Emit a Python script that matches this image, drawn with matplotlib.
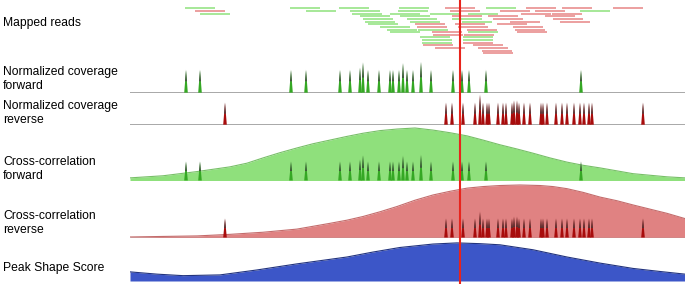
import matplotlib.pyplot as plt

# ---- data (positions are relative to window start) ----
summit = 330
read_len = 30

fwd_read_start = [55, 70, 160, 176, 209, 220, 222, 230, 233, 235, 238, 250, 257, 260,
                  269, 268, 270, 277, 280, 300, 338, 322, 332, 288, 260, 338, 290, 333,
                  292, 333, 292, 356, 450]
fwd_read_row = [0, 2, 0, 1, 0, 1, 2, 3, 4, 5, 6, 7, 8, 2,
                0, 1, 3, 4, 5, 2, 2, 4, 5, 8, 9, 9, 11, 11,
                12, 12, 13, 0, 1]
rev_read_start = [65, 315, 396, 432, 483, 320, 370, 405, 391, 422, 322, 358, 415, 363,
                  423, 380, 430, 285, 325, 367, 287, 328, 383, 337, 385, 302, 387, 303,
                  334, 333, 293, 343, 305, 348, 352, 353]
rev_read_row = [1, 0, 0, 0, 0, 1, 1, 1, 2, 2, 3, 3, 3, 4,
                4, 5, 5, 6, 6, 6, 7, 7, 7, 8, 8, 9, 9, 10,
                10, 13, 14, 14, 15, 15, 16, 17]

fwd_peak_pos = [56, 70, 161, 176, 210, 220, 230, 233, 238, 249, 260, 263, 269, 273,
                277, 283, 291, 301, 323, 332, 339, 356, 451]
fwd_peak_ht = [1.0, 1.0, 1.0, 1.0, 1.0, 1.0, 1.1, 1.33, 1.0, 1.0, 1.0, 1.0, 1.0, 1.3,
               1.0, 1.0, 1.35, 1.0, 1.0, 1.0, 1.0, 1.0, 1.0]
rev_peak_pos = [95, 316, 322, 333, 345, 350, 353, 357, 359, 368, 373, 376, 382, 384,
                387, 389, 394, 400, 411, 413, 417, 426, 432, 437, 444, 450, 454, 459,
                462, 513]
rev_peak_ht = [1.0, 1.0, 1.0, 1.0, 1.0, 1.36, 1.0, 1.0, 1.0, 1.0, 1.0, 1.0, 1.0, 1.1,
               1.1, 1.0, 1.0, 1.0, 1.0, 1.0, 1.0, 1.0, 1.0, 1.0, 1.0, 1.0, 1.0, 1.0,
               1.0, 1.0]

ccf_pos = [0, 33, 67, 100, 117, 133, 150, 167, 183, 200, 217, 233, 250, 267, 285, 303, 320,
           337, 353, 370, 387, 403, 420, 437, 453, 470, 503, 537, 555]
ccf_val = [0.05, 0.09, 0.17, 0.26, 0.33, 0.43, 0.53, 0.62, 0.70, 0.77, 0.84, 0.90, 0.95, 0.98,
           1.0, 0.96, 0.91, 0.85, 0.77, 0.68, 0.60, 0.52, 0.43, 0.35, 0.29, 0.24, 0.13, 0.07, 0.05]
ccr_pos = [0, 33, 67, 100, 133, 167, 200, 217, 233, 250, 267, 285, 303, 320, 337, 353, 370,
           390, 410, 423, 437, 453, 470, 487, 503, 520, 537, 555]
ccr_val = [0.01, 0.02, 0.03, 0.06, 0.10, 0.16, 0.27, 0.33, 0.40, 0.49, 0.59, 0.71, 0.81, 0.88,
           0.94, 0.97, 0.99, 1.0, 0.99, 0.97, 0.93, 0.86, 0.77, 0.70, 0.62, 0.54, 0.46, 0.36]
score_pos = [0, 27, 53, 90, 127, 167, 217, 243, 270, 303, 327, 350, 370, 403, 437, 470, 503,
             530, 555]
score_val = [0.24, 0.18, 0.14, 0.16, 0.29, 0.45, 0.63, 0.76, 0.88, 0.97, 1.0, 0.98, 0.95, 0.82,
             0.63, 0.47, 0.33, 0.25, 0.18]

labels = [("Mapped reads", 23), ("Normalized coverage", 72), ("forward", 86),
          ("Normalized coverage", 106), ("reverse", 120), ("Cross-correlation", 162),
          ("forward", 176), ("Cross-correlation", 216), ("reverse", 230),
          ("Peak Shape Score", 268)]

GREEN, GREEN_FILL, GREEN_EDGE = "#35a824", "#8fe07c", "#78c068"
RED, RED_FILL, RED_EDGE = "#a80c0c", "#e08282", "#c46c6c"
BLUE, BLUE_EDGE = "#3c56c8", "#22337e"
READ_G, READ_R = "#9fe690", "#eb9797"

plt.rcParams['font.family'] = ['Liberation Sans', 'DejaVu Sans']
W, H = 685, 284
fig = plt.figure(figsize=(W / 100, H / 100), dpi=100)


def track(top, bottom, ylim):
    ax = fig.add_axes([130 / W, 1 - bottom / H, 555 / W, (bottom - top) / H])
    ax.set_xlim(0, 555)
    ax.set_ylim(*ylim)
    ax.axis("off")
    return ax


def spikes(ax, pos, hts, scale, color):
    for p, h in zip(pos, hts):
        h = h * scale
        ax.fill([p - 1.8, p, p + 1.8], [0, h, 0], color=color, lw=0, zorder=3)
        ax.fill([p - 0.9, p, p + 0.9], [h * 0.5, h, h * 0.5], color="#3a3a3a", alpha=0.85, lw=0, zorder=4)


# mapped reads
ax = track(3, 58, (18.75, -2))
ax.hlines(fwd_read_row, fwd_read_start, [s + read_len for s in fwd_read_start], colors=READ_G, lw=1.3)
ax.hlines(rev_read_row, rev_read_start, [s + read_len for s in rev_read_start], colors=READ_R, lw=1.3)

# normalized coverage
ax = track(60, 92.7, (0, 1.44))
ax.axhline(0, color="#9a9a9a", lw=1.2)
spikes(ax, fwd_peak_pos, fwd_peak_ht, 1.0, GREEN)
ax = track(94, 124.7, (0, 1.395))
ax.axhline(0, color="#9a9a9a", lw=1.2)
spikes(ax, rev_peak_pos, rev_peak_ht, 1.0, RED)

# cross-correlation
ax = track(126, 180.5, (0, 1.038))
ax.fill_between(ccf_pos, 0, ccf_val, color=GREEN_FILL, lw=0)
ax.plot(ccf_pos, ccf_val, color=GREEN_EDGE, lw=0.8)
spikes(ax, fwd_peak_pos, fwd_peak_ht, 0.36, GREEN)
ax = track(183, 237.5, (0, 1.038))
ax.fill_between(ccr_pos, 0, ccr_val, color=RED_FILL, lw=0)
ax.plot(ccr_pos, ccr_val, color=RED_EDGE, lw=0.8)
ax.axhline(0, color="#9a9a9a", lw=1.0)
spikes(ax, rev_peak_pos, rev_peak_ht, 0.36, RED)

# peak shape score
ax = track(241, 281, (0, 1.05))
ax.fill_between(score_pos, 0, score_val, color=BLUE, lw=0)
ax.plot(score_pos, score_val, color=BLUE_EDGE, lw=0.8)

# summit marker across all tracks
ax = track(0, H, (0, 1))
ax.axvline(summit, color="#e8241c", lw=1.5)

for text, y in labels:
    fig.text(3 / W, 1 - y / H, text, va="center", ha="left", fontsize=8.7)

fig.savefig("out.png", dpi=100)
